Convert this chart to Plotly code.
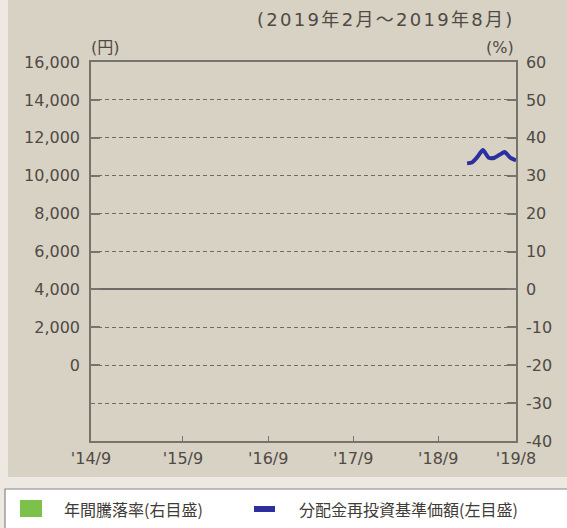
import plotly.graph_objects as go

# ---- data ----
nav_dates = ["2019-02-01", "2019-02-22", "2019-03-15", "2019-04-10", "2019-05-05",
             "2019-05-30", "2019-06-20", "2019-07-12", "2019-08-05", "2019-08-30"]
nav_values = [10650, 10700, 10950, 11350, 10950, 10950, 11100, 11250, 10950, 10800]

annual_dates = []      # no annual return bars shown in the period
annual_returns = []

x_tick_dates = ["2014-08-31", "2015-09-30", "2016-09-30", "2017-09-30", "2018-09-30", "2019-08-30"]
x_tick_labels = ["'14/9", "'15/9", "'16/9", "'17/9", "'18/9", "'19/8"]
left_ticks = [0, 2000, 4000, 6000, 8000, 10000, 12000, 14000, 16000]
left_labels = ["0", "2,000", "4,000", "6,000", "8,000", "10,000", "12,000", "14,000", "16,000"]
right_ticks = [-40, -30, -20, -10, 0, 10, 20, 30, 40, 50, 60]
right_labels = ["-40", "-30", "-20", "-10", "0", "10", "20", "30", "40", "50", "60"]

title_text = "(2019年2月～2019年8月)"
legend_bar = "年間騰落率(右目盛)"
legend_line = "分配金再投資基準価額(左目盛)"

FONT = "DejaVu Sans, Noto Sans CJK JP, sans-serif"
TXT = "#4f4a44"
AX = "#77726c"
PANEL = "#d8d2c5"

fig = go.Figure()
fig.add_trace(go.Bar(x=annual_dates, y=annual_returns, yaxis="y2",
                     marker_color="#7dc14b", name=legend_bar, showlegend=False))
fig.add_trace(go.Scatter(x=nav_dates, y=nav_values, mode="lines", yaxis="y",
                         line=dict(color="#2c2f9e", width=4, shape="spline", smoothing=0.6),
                         name=legend_line, showlegend=False))

fig.update_layout(
    width=567, height=528,
    margin=dict(l=91, r=51, t=62, b=87),
    paper_bgcolor="#ede9e2",
    plot_bgcolor="white",
    font=dict(family=FONT, size=16, color=TXT),
    xaxis=dict(type="date", range=["2014-08-31", "2019-08-30"],
               tickvals=x_tick_dates, ticktext=x_tick_labels,
               ticks="inside", ticklen=5, tickcolor=AX, tickwidth=1,
               showline=True, linecolor=AX, linewidth=1.5, mirror=True,
               showgrid=False, zeroline=False, ticklabelstandoff=2,
               tickfont=dict(size=16, color=TXT)),
    yaxis=dict(range=[-4000, 16000], tickvals=left_ticks, ticktext=left_labels,
               ticks="inside", ticklen=9, tickcolor=AX, tickwidth=1.5,
               showline=True, linecolor=AX, linewidth=1.5,
               showgrid=False, zeroline=False, ticklabelstandoff=6,
               tickfont=dict(size=16, color=TXT)),
    yaxis2=dict(range=[-40, 60], tickvals=right_ticks, ticktext=right_labels,
                overlaying="y", side="right",
                ticks="inside", ticklen=9, tickcolor=AX, tickwidth=1.5,
                showline=True, linecolor=AX, linewidth=1.5,
                showgrid=True, gridcolor="#6e6a66", gridwidth=1, griddash="4px,3px",
                zeroline=True, zerolinecolor="#6e6a66", zerolinewidth=1.5,
                ticklabelstandoff=5,
                tickfont=dict(size=16, color=TXT)),
    showlegend=False,
)

# panel background and legend box
fig.add_shape(type="rect", xref="paper", yref="paper", layer="below",
              x0=-83/425, x1=(567-91)/425, y0=-(477-441)/379, y1=(441-0+62)/379,
              line=dict(width=0), fillcolor=PANEL)
fig.add_shape(type="rect", xref="paper", yref="paper", layer="below",
              x0=-86/425, x1=(575-91)/425, y0=-(530-441)/379, y1=-(489-441)/379,
              line=dict(width=1.2, color="#8a8580"), fillcolor="white")

# legend items
ly = -(509-441)/379
fig.add_shape(type="rect", xref="paper", yref="paper",
              x0=(20-91)/425, x1=(42-91)/425, y0=-(500-441)/379, y1=-(517-441)/379,
              line=dict(width=0), fillcolor="#7dc14b")
fig.add_shape(type="line", xref="paper", yref="paper",
              x0=(254-91)/425, x1=(275-91)/425, y0=ly, y1=ly,
              line=dict(width=6, color="#2c2f9e"))
fig.add_annotation(xref="paper", yref="paper", x=(62-91)/425, y=ly, text=legend_bar,
                   showarrow=False, xanchor="left", yanchor="middle",
                   font=dict(family="Noto Sans CJK JP", size=16, color="#3f3b36"))
fig.add_annotation(xref="paper", yref="paper", x=(297-91)/425, y=ly, text=legend_line,
                   showarrow=False, xanchor="left", yanchor="middle",
                   font=dict(family="Noto Sans CJK JP", size=16, color="#3f3b36"))

# title and unit labels
fig.add_annotation(xref="paper", yref="paper", x=(517-91)/425, y=1+(62-19)/379,
                   text='<span style="letter-spacing:2.3px">' + title_text + '</span>',
                   showarrow=False, xanchor="right", yanchor="middle",
                   font=dict(size=18, color=TXT))
fig.add_annotation(xref="paper", yref="paper", x=(89-91)/425, y=1+(62-48)/379,
                   text="(円)", showarrow=False, xanchor="left", yanchor="middle",
                   font=dict(size=16, color=TXT))
fig.add_annotation(xref="paper", yref="paper", x=(516-91)/425, y=1+(62-48)/379,
                   text="(%)", showarrow=False, xanchor="right", yanchor="middle",
                   font=dict(size=16, color=TXT))

fig.write_html("out.html", config={"displayModeBar": False},
               post_script="document.body.style.margin='0px';")
